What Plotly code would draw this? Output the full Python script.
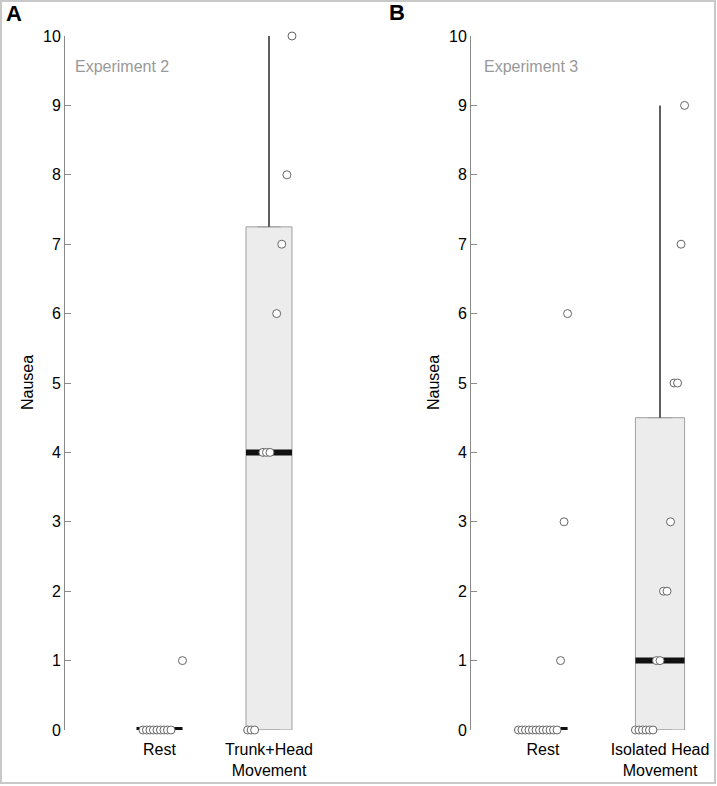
import plotly.graph_objects as go

W, H = 717, 786

# ---- data ----
cats_a = ["Rest", "Trunk+Head<br>Movement"]
cats_b = ["Rest", "Isolated Head<br>Movement"]

rest_a = [0, 0, 0, 0, 0, 0, 0, 0, 0, 1]
trunk_a = [0, 0, 0, 4, 4, 4, 6, 7, 8, 10]
rest_b = [0, 0, 0, 0, 0, 0, 0, 0, 0, 0, 0, 0, 1, 3, 6]
iso_b = [0, 0, 0, 0, 0, 0, 1, 1, 2, 2, 3, 5, 5, 7, 9]

q1_a = [0, 0]
med_a = [0, 4]
q3_a = [0, 7.25]
top_a = [0, 10]

q1_b = [0, 0]
med_b = [0, 1]
q3_b = [0, 4.5]
top_b = [0, 9]

yticks = [0, 1, 2, 3, 4, 5, 6, 7, 8, 9, 10]

BOXW = 0.42
TIE_PITCH = 0.032
FONT = "Liberation Sans, Arial, sans-serif"


def px(x):
    return x / W


def py(y):
    return 1 - y / H


def spread(c, vals):
    # sorted values laid out left->right across the box; tied values packed tighter
    s = sorted(vals)
    n = len(s)
    base = BOXW / (n - 1)
    pitch = min(base, TIE_PITCH)
    xs = []
    i = 0
    while i < n:
        j = i
        while j + 1 < n and s[j + 1] == s[i]:
            j += 1
        k = j - i + 1
        mid = c - BOXW / 2 + (i + j) / 2 * base
        xs += [mid + (m - (k - 1) / 2) * pitch for m in range(k)]
        i = j + 1
    return xs, s


def add_panel(fig, xa, ya, groups, q1, med, q3, top):
    pos = [1, 2]
    fig.add_trace(go.Box(x=pos, q1=q1, median=med, q3=q3, lowerfence=q1, upperfence=q3,
                         width=BOXW, fillcolor="#ececec", line=dict(color="#a0a0a0", width=1),
                         boxpoints=False, xaxis=xa, yaxis=ya, showlegend=False, hoverinfo="skip"))
    # whiskers
    wx, wy = [], []
    for c, lo, hi in zip(pos, q3, top):
        if hi > lo:
            wx += [c, c, None]
            wy += [lo, hi, None]
    fig.add_trace(go.Scatter(x=wx, y=wy, mode="lines", line=dict(color="#2a2a2a", width=1.5),
                             xaxis=xa, yaxis=ya, showlegend=False, hoverinfo="skip"))
    # median bars
    mx, my = [], []
    for c, m in zip(pos, med):
        mx += [c - BOXW / 2, c + BOXW / 2, None]
        my += [m, m, None]
    fig.add_trace(go.Scatter(x=mx, y=my, mode="lines", line=dict(color="#111", width=6),
                             xaxis=xa, yaxis=ya, showlegend=False, hoverinfo="skip", cliponaxis=False))
    # individual points
    for c, vals in zip(pos, groups):
        xs, ys = spread(c, vals)
        fig.add_trace(go.Scatter(x=xs, y=ys, mode="markers", cliponaxis=False,
                                 marker=dict(size=8, color="white", line=dict(color="#666", width=1)),
                                 xaxis=xa, yaxis=ya, showlegend=False))


fig = go.Figure()
add_panel(fig, "x", "y", [rest_a, trunk_a], q1_a, med_a, q3_a, top_a)
add_panel(fig, "x2", "y2", [rest_b, iso_b], q1_b, med_b, q3_b, top_b)

ydom = [py(730), py(36)]
yax = dict(range=[0, 10], domain=ydom, showline=True, linecolor="#8a8a8a", linewidth=1,
           ticks="inside", ticklen=6, tickcolor="#8a8a8a", tickvals=yticks, automargin=False,
           showgrid=False, zeroline=False, tickfont=dict(size=16, color="black"))
xax = dict(showline=False, ticks="", showgrid=False, zeroline=False, tickvals=[1, 2], automargin=False,
           ticklabelstandoff=8, tickfont=dict(size=16, color="black"))

# panel A: axis at 65px, category spacing ~109.5px
ua = 109.5
xa0 = 1 - (159.5 - 65) / ua
fig.update_layout(
    xaxis=dict(xax, domain=[px(65), px(350)], range=[xa0, xa0 + (350 - 65) / ua], ticktext=cats_a),
    yaxis=dict(yax, anchor="x"),
)
# panel B: axis at 471px
ub = 117.0
xb0 = 1 - (543 - 471) / ub
fig.update_layout(
    xaxis2=dict(xax, domain=[px(471), px(712)], range=[xb0, xb0 + (712 - 471) / ub], ticktext=cats_b,
                anchor="y2"),
    yaxis2=dict(yax, anchor="x2"),
)

ann = [
    dict(text="<b>A</b>", x=px(4), y=py(14), xanchor="left", font=dict(size=22)),
    dict(text="<b>B</b>", x=px(387), y=py(12), xanchor="left", font=dict(size=22)),
    dict(text="Experiment 2", x=px(73), y=py(66), xanchor="left", font=dict(size=16, color="#999")),
    dict(text="Experiment 3", x=px(482), y=py(66), xanchor="left", font=dict(size=16, color="#999")),
    dict(text="Nausea", x=px(28), y=py(383), textangle=-90, font=dict(size=16)),
    dict(text="Nausea", x=px(434), y=py(383), textangle=-90, font=dict(size=16)),
]
for a in ann:
    a.update(xref="paper", yref="paper", showarrow=False, yanchor="middle")
    a.setdefault("xanchor", "center")

fig.update_layout(
    width=W, height=H, margin=dict(l=0, r=0, t=0, b=0, pad=0),
    paper_bgcolor="white", plot_bgcolor="white",
    font=dict(family=FONT, color="black"),
    annotations=ann,
    shapes=[dict(type="rect", xref="paper", yref="paper", x0=px(1), x1=px(715), y0=py(783), y1=py(1),
                 line=dict(color="#c8c8c8", width=2))],
)

# drop the page's default margins so the 717x786 figure fills the window exactly
post = ("document.documentElement.style.margin='0';document.body.style.margin='0';"
        "document.body.style.overflow='hidden';")
fig.write_html("out.html", post_script=post, config={"displayModeBar": False})
